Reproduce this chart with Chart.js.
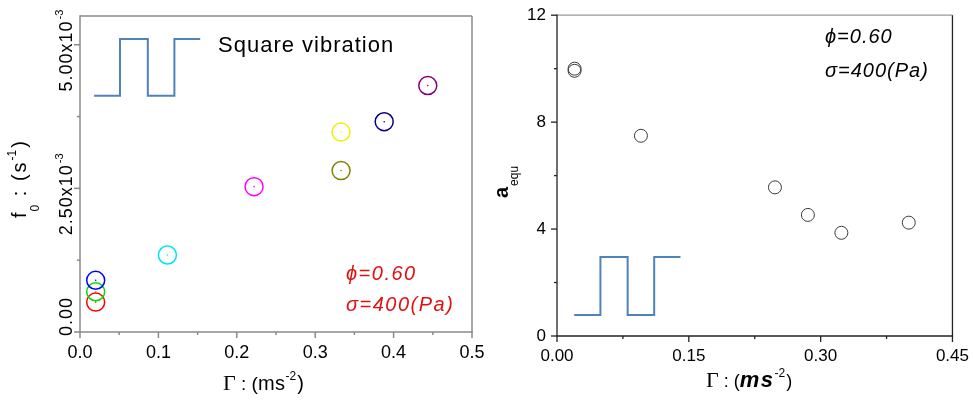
<!DOCTYPE html>
<html><head><meta charset="utf-8">
<script src="https://cdn.jsdelivr.net/npm/chart.js@4/dist/chart.umd.min.js"></script>
<style>
html,body{margin:0;padding:0;background:#fff;overflow:hidden;}
#wrapL{position:absolute;left:0;top:0;width:490px;height:403px;}
#wrapR{position:absolute;left:490px;top:0;width:483px;height:403px;}
canvas{display:block;}
</style></head><body>
<div id="wrapL"><canvas id="cL" width="490" height="403"></canvas></div>
<div id="wrapR"><canvas id="cR" width="483" height="403"></canvas></div>
<script>
// ---------- data: left panel (f0 vs Gamma) ----------
const leftGamma = [0.02, 0.02, 0.02, 0.1115, 0.222, 0.333, 0.333, 0.388, 0.4436];
const leftF0 = [0.00052, 0.00070, 0.00090, 0.00134, 0.00253, 0.00348, 0.00281, 0.00366, 0.00429];
const leftColors = ['#ff0000', '#00dd00', '#0000ff', '#00e5f0', '#ff00ff', '#f0f000', '#808000', '#000080', '#800080'];
const leftXTickValues = [0, 0.1, 0.2, 0.3, 0.4, 0.5];
const leftXTickLabels = ['0.0', '0.1', '0.2', '0.3', '0.4', '0.5'];
const leftYTickValues = [0, 0.0025, 0.005];
const leftYTickMantissa = ['0.00', '2.50x10', '5.00x10'];
const leftYTickExponent = ['', '-3', '-3'];
const waveLX = [0.018, 0.051, 0.0865, 0.1204, 0.1533];
const waveLY = [0.00411, 0.00510, 0.00411, 0.00510, 0.00510];

// ---------- data: right panel (a_equ vs Gamma) ----------
const rightGamma = [0.02, 0.02, 0.0955, 0.248, 0.2855, 0.3236, 0.4003];
const rightAequ = [10.0, 9.92, 7.49, 5.56, 4.53, 3.86, 4.24];
const rightXTickValues = [0, 0.15, 0.30, 0.45];
const rightXTickLabels = ['0.00', '0.15', '0.30', '0.45'];
const rightYTickValues = [0, 4, 8, 12];
const rightYTickLabels = ['0', '4', '8', '12'];
const waveRX = [0.0196, 0.0494, 0.0804, 0.1106, 0.1405];
const waveRY = [0.785, 2.953, 0.785, 2.953, 2.953];

const SANS = '"Liberation Sans", Arial, "DejaVu Sans", sans-serif';
const SERIF = '"Liberation Serif", "Times New Roman", serif';
const WAVE = '#4f81bd';

Chart.defaults.font.family = SANS;
Chart.defaults.color = '#000';

function near(a, b) { return Math.abs(a - b) < 1e-9 + Math.abs(b) * 1e-6; }
function labelFor(values, labels) {
  return v => { const i = values.findIndex(t => near(v, t)); return i >= 0 ? labels[i] : ''; };
}
function isMult(v, step) { const r = v / step; return Math.abs(r - Math.round(r)) < 1e-6; }
function pts(xs, ys) { return xs.map((x, i) => ({ x: x, y: ys[i] })); }

// draw a sequence of text pieces along a baseline
function drawParts(ctx, x, y, parts) {
  let cx = x;
  for (const p of parts) {
    cx += p.gap || 0;
    ctx.font = p.f;
    ctx.letterSpacing = (p.ls || 0) + 'px';
    ctx.fillStyle = p.c || '#000';
    ctx.fillText(p.t, cx, y + (p.dy || 0));
    cx += ctx.measureText(p.t).width;
  }
  ctx.letterSpacing = '0px';
  return cx - x;
}
function partsWidth(ctx, parts) {
  let w = 0;
  for (const p of parts) {
    w += p.gap || 0; ctx.font = p.f; ctx.letterSpacing = (p.ls || 0) + 'px';
    w += ctx.measureText(p.t).width;
  }
  ctx.letterSpacing = '0px';
  return w;
}

function axisPlugin(cfg) {
  return {
    id: 'axisframe',
    beforeDatasetsDraw(chart) {
      const { ctx, chartArea: a, scales } = chart;
      ctx.save();
      ctx.lineWidth = cfg.lw;
      const side = (col, x1, y1, x2, y2) => { ctx.strokeStyle = col; ctx.beginPath(); ctx.moveTo(x1, y1); ctx.lineTo(x2, y2); ctx.stroke(); };
      side(cfg.top, a.left, a.top, a.right, a.top);
      side(cfg.right, a.right, a.top, a.right, a.bottom);
      side(cfg.bottom, a.left - cfg.lw / 2, a.bottom, a.right + cfg.lw / 2, a.bottom);
      side(cfg.left, a.left, a.top - cfg.lw / 2, a.left, a.bottom);
      // tick marks
      const xs = scales.x, ys = scales.y;
      ctx.strokeStyle = cfg.bottom;
      for (const t of xs.ticks) {
        if (!isMult(t.value, cfg.xMinor)) continue;
        const major = isMult(t.value, cfg.xMajor);
        const px = xs.getPixelForValue(t.value);
        ctx.beginPath(); ctx.moveTo(px, a.bottom); ctx.lineTo(px, a.bottom + (major ? 6 : 3)); ctx.stroke();
      }
      ctx.strokeStyle = cfg.left;
      for (const t of ys.ticks) {
        if (!isMult(t.value, cfg.yMinor)) continue;
        const major = isMult(t.value, cfg.yMajor);
        const py = ys.getPixelForValue(t.value);
        ctx.beginPath(); ctx.moveTo(a.left, py); ctx.lineTo(a.left - (major ? 6 : 3), py); ctx.stroke();
      }
      ctx.restore();
    }
  };
}

// ---------- left chart ----------
const leftText = {
  id: 'leftText',
  afterDraw(chart) {
    const { ctx } = chart;
    const ys = chart.scales.y;
    ctx.save();
    ctx.textBaseline = 'alphabetic';
    ctx.textAlign = 'left';
    // rotated y tick labels
    leftYTickValues.forEach((v, i) => {
      const py = ys.getPixelForValue(v);
      const parts = [{ t: leftYTickMantissa[i], f: '18px ' + SANS, ls: 1 }];
      if (leftYTickExponent[i]) parts.push({ t: leftYTickExponent[i], f: '11px ' + SANS, dy: -9, gap: 1 });
      const w = partsWidth(ctx, parts);
      ctx.save();
      ctx.translate(72, py - 35 + w);
      ctx.rotate(-Math.PI / 2);
      drawParts(ctx, 0, 0, parts);
      ctx.restore();
    });
    // y title
    ctx.save();
    ctx.translate(26, 218);
    ctx.rotate(-Math.PI / 2);
    drawParts(ctx, 0, 0, [
      { t: 'f', f: '20px ' + SANS },
      { t: '0', f: '12px ' + SANS, dy: 13, gap: 1 },
      { t: ' : (s', f: '20px ' + SANS, ls: 2, gap: 1 },
      { t: '-1', f: '12px ' + SANS, dy: -10 },
      { t: ')', f: '20px ' + SANS, gap: 2 }
    ]);
    ctx.restore();
    // x title
    drawParts(ctx, 223, 390, [
      { t: '\u0393', f: '22px ' + SERIF },
      { t: ' : (', f: '19px ' + SANS },
      { t: 'ms', f: '20px ' + SANS, ls: 0.5 },
      { t: '-2', f: '12px ' + SANS, dy: -10 },
      { t: ')', f: '20px ' + SANS, gap: 1 }
    ]);
    // annotations
    drawParts(ctx, 218, 52, [{ t: 'Square vibration', f: '22px ' + SANS, ls: 1 }]);
    drawParts(ctx, 346, 280, [{ t: '\u03D5=0.60', f: 'italic 20px ' + SANS, ls: 1.5, c: '#e01010' }]);
    drawParts(ctx, 346, 311, [{ t: '\u03C3=400(Pa)', f: 'italic 20px ' + SANS, ls: 1.5, c: '#e01010' }]);
    ctx.restore();
  }
};

new Chart(document.getElementById('cL'), {
  type: 'scatter',
  data: {
    datasets: [
      { data: pts(waveLX, waveLY), showLine: true, stepped: 'before', borderColor: WAVE, borderWidth: 2, pointRadius: 0, fill: false },
      { data: pts(leftGamma, leftF0), pointRadius: 9, pointBorderWidth: 1.5, pointBorderColor: leftColors, pointBackgroundColor: 'rgba(0,0,0,0)' },
      { data: pts(leftGamma, leftF0), pointRadius: 0.8, pointBorderWidth: 0, pointBackgroundColor: leftColors }
    ]
  },
  options: {
    responsive: false, animation: false, events: [],
    layout: { autoPadding: false, padding: { left: 0, top: 16, right: 18, bottom: 0 } },
    plugins: { legend: { display: false }, tooltip: { enabled: false } },
    scales: {
      x: {
        type: 'linear', min: 0, max: 0.5,
        grid: { display: false, drawTicks: true, tickLength: 6 }, border: { display: false },
        ticks: { stepSize: 0.05, autoSkip: false, maxRotation: 0, padding: 4, color: '#000', font: { size: 18 }, callback: labelFor(leftXTickValues, leftXTickLabels) },
        afterFit: s => { s.height = 71; }
      },
      y: {
        type: 'linear', min: 0, max: 0.0055,
        grid: { display: false, drawTicks: true, tickLength: 6 }, border: { display: false },
        ticks: { stepSize: 0.00125, display: false },
        afterFit: s => { s.width = 80; }
      }
    }
  },
  plugins: [axisPlugin({ lw: 1.5, top: '#8a8a8a', right: '#8a8a8a', bottom: '#8a8a8a', left: '#8a8a8a', xMinor: 0.05, xMajor: 0.1, yMinor: 0.00125, yMajor: 0.0025 }), leftText]
});

// ---------- right chart ----------
const rightText = {
  id: 'rightText',
  afterDraw(chart) {
    const { ctx } = chart;
    ctx.save();
    ctx.textBaseline = 'alphabetic';
    ctx.textAlign = 'left';
    // y title
    ctx.save();
    ctx.translate(18, 198);
    ctx.rotate(-Math.PI / 2);
    drawParts(ctx, 0, 0, [
      { t: 'a', f: 'bold 20px ' + SANS },
      { t: 'equ', f: '12px ' + SANS, dy: 10, gap: 1 }
    ]);
    ctx.restore();
    // x title
    drawParts(ctx, 216, 387, [
      { t: '\u0393', f: '22px ' + SERIF },
      { t: ' : (', f: '18px ' + SANS },
      { t: 'ms', f: 'italic bold 22px ' + SANS, ls: 1.5 },
      { t: '-2', f: '12px ' + SANS, dy: -10 },
      { t: ')', f: '18px ' + SANS, gap: 1 }
    ]);
    // annotations
    drawParts(ctx, 335, 43, [{ t: '\u03D5=0.60', f: 'italic 20px ' + SANS, ls: 1 }]);
    drawParts(ctx, 335, 77, [{ t: '\u03C3=400(Pa)', f: 'italic 20px ' + SANS, ls: 1 }]);
    ctx.restore();
  }
};

new Chart(document.getElementById('cR'), {
  type: 'scatter',
  data: {
    datasets: [
      { data: pts(waveRX, waveRY), showLine: true, stepped: 'before', borderColor: WAVE, borderWidth: 2, pointRadius: 0, fill: false },
      { data: pts(rightGamma, rightAequ), pointRadius: 6.5, pointBorderWidth: 1, pointBorderColor: '#3a3a3a', pointBackgroundColor: 'rgba(0,0,0,0)' }
    ]
  },
  options: {
    responsive: false, animation: false, events: [],
    layout: { autoPadding: false, padding: { left: 0, top: 15, right: 19, bottom: 0 } },
    plugins: { legend: { display: false }, tooltip: { enabled: false } },
    scales: {
      x: {
        type: 'linear', min: 0, max: 0.45,
        grid: { display: false, drawTicks: true, tickLength: 6 }, border: { display: false },
        ticks: { stepSize: 0.075, autoSkip: false, maxRotation: 0, padding: 4, color: '#000', font: { size: 17 }, callback: labelFor(rightXTickValues, rightXTickLabels) },
        afterFit: s => { s.height = 67; }
      },
      y: {
        type: 'linear', min: 0, max: 12,
        grid: { display: false, drawTicks: true, tickLength: 6 }, border: { display: false },
        ticks: { stepSize: 2, autoSkip: false, padding: 5, color: '#000', font: { size: 17 }, callback: labelFor(rightYTickValues, rightYTickLabels) },
        afterFit: s => { s.width = 67; }
      }
    }
  },
  plugins: [axisPlugin({ lw: 1.3, top: '#9a9a9a', right: '#222', bottom: '#222', left: '#222', xMinor: 0.075, xMajor: 0.15, yMinor: 2, yMajor: 4 }), rightText]
});
</script>
</body></html>
